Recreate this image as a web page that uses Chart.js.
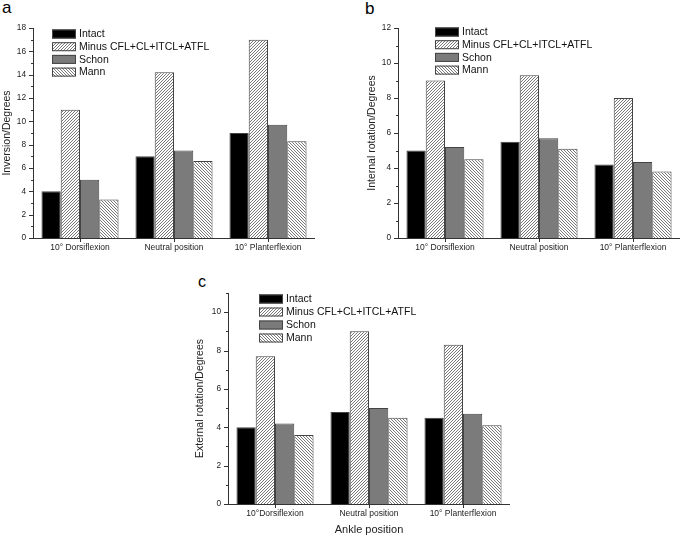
<!DOCTYPE html>
<html lang="en">
<head>
<meta charset="UTF-8">
<title>Ankle rotation and inversion</title>
<script src="https://cdn.jsdelivr.net/npm/chart.js"></script>
<style>
  body { margin: 0; background: #fff; font-family: "Liberation Sans", Arial, sans-serif; }
  #wrap { position: relative; width: 685px; height: 537px; overflow: hidden; }
  canvas { position: absolute; }
  .tag { position: absolute; line-height: 1; color: #000; }
</style>
</head>
<body>
<div id="wrap">
  <div class="tag" style="left:2px;top:-1px;font-size:17px">a</div>
  <div class="tag" style="left:365px;top:0px;font-size:17px">b</div>
  <div class="tag" style="left:198px;top:274px;font-size:16px">c</div>
  <canvas id="ca" width="340" height="260" style="left:0;top:0"></canvas>
  <canvas id="cb" width="343" height="260" style="left:342px;top:0"></canvas>
  <canvas id="cc" width="360" height="277" style="left:160px;top:260px"></canvas>
</div>

<script>
  // categories and series names
  const categories = ['10° Dorsiflexion', 'Neutral position', '10° Planterflexion'];
  const categoriesC = ['10°Dorsiflexion', 'Neutral position', '10° Planterflexion'];
  const seriesNames = ['Intact', 'Minus CFL+CL+ITCL+ATFL', 'Schon', 'Mann'];

  // (a) inversion, degrees
  const invIntact = [4.0, 7.0, 9.0];
  const invMinus = [11.0, 14.2, 17.0];
  const invSchon = [5.0, 7.5, 9.7];
  const invMann = [3.3, 6.6, 8.3];

  // (b) internal rotation, degrees
  const intIntact = [5.0, 5.5, 4.2];
  const intMinus = [9.0, 9.3, 8.0];
  const intSchon = [5.2, 5.7, 4.35];
  const intMann = [4.5, 5.1, 3.8];

  // (c) external rotation, degrees
  const extIntact = [4.0, 4.8, 4.5];
  const extMinus = [7.7, 9.0, 8.3];
  const extSchon = [4.2, 5.0, 4.7];
  const extMann = [3.6, 4.5, 4.1];

  Chart.defaults.font.family = '"Liberation Sans", Arial, sans-serif';
  Chart.defaults.color = '#222';

  // fine hatch fill, dir 1 = "////", -1 = "\\\\"
  function hatch(dir) {
    const n = 3;
    const c = document.createElement('canvas');
    c.width = n; c.height = n;
    const g = c.getContext('2d');
    const img = g.createImageData(n, n);
    for (let yy = 0; yy < n; yy++) {
      for (let xx = 0; xx < n; xx++) {
        const on = dir > 0 ? (xx + yy) % n === n - 1 : (xx - yy + n) % n === 0;
        const v = on ? 120 : 255;
        const p = (yy * n + xx) * 4;
        img.data[p] = img.data[p + 1] = img.data[p + 2] = v;
        img.data[p + 3] = 255;
      }
    }
    g.putImageData(img, 0, 0);
    return g.createPattern(c, 'repeat');
  }
  const fills = ['#000', hatch(1), '#7b7b7b', hatch(-1)];

  // axis lines, origin style ticks and the boxed legend
  const originAxes = {
    id: 'originAxes',
    afterDatasetsDraw(chart, args, opts) {
      const { ctx, chartArea: a, scales: { x, y } } = chart;
      ctx.save();
      ctx.strokeStyle = '#333';
      ctx.lineWidth = 1;
      ctx.beginPath();
      ctx.moveTo(a.left + 0.5, a.top);
      ctx.lineTo(a.left + 0.5, a.bottom + 1);
      ctx.moveTo(a.left, a.bottom + 0.5);
      ctx.lineTo(a.right, a.bottom + 0.5);
      for (let v = 0; v <= y.max; v++) {
        const py = Math.round(y.getPixelForValue(v)) + 0.5;
        const len = v % 2 === 0 ? 4 : 2;
        ctx.moveTo(a.left - len, py);
        ctx.lineTo(a.left, py);
      }
      x.ticks.forEach((t, i) => {
        const px = Math.round(x.getPixelForValue(i)) + 0.5;
        ctx.moveTo(px, a.bottom);
        ctx.lineTo(px, a.bottom + 4);
      });
      ctx.stroke();

      // legend
      ctx.font = '10.5px "Liberation Sans", Arial, sans-serif';
      ctx.textBaseline = 'middle';
      chart.data.datasets.forEach((ds, i) => {
        const lx = a.left + opts.lx;
        const cy = a.top + opts.ly + i * opts.step;
        ctx.fillStyle = ds.backgroundColor;
        ctx.fillRect(lx, cy - 4.5, 24, 9);
        ctx.strokeStyle = '#444';
        ctx.strokeRect(lx + 0.5, cy - 4, 23, 8);
        ctx.fillStyle = '#111';
        ctx.fillText(ds.label, lx + 27, cy + 0.5);
      });
      ctx.restore();
    }
  };

  function makeChart(id, labels, series, yMax, yTitle, xTitle, pad, yWidth, xHeight, legend) {
    return new Chart(document.getElementById(id), {
      type: 'bar',
      data: {
        labels: labels,
        datasets: series.map((vals, i) => ({
          label: seriesNames[i],
          data: vals,
          backgroundColor: fills[i],
          borderColor: '#444',
          borderWidth: 1,
          categoryPercentage: 0.82,
          barPercentage: 1.0
        }))
      },
      options: {
        responsive: false,
        animation: false,
        layout: { padding: pad },
        plugins: {
          legend: { display: false },
          tooltip: { enabled: false },
          originAxes: legend
        },
        scales: {
          x: {
            grid: { display: false, drawTicks: false },
            border: { display: false },
            ticks: { font: { size: 8.5 }, padding: 5, maxRotation: 0 },
            title: {
              display: !!xTitle, text: xTitle || '',
              font: { size: 11 }, padding: { top: 2, bottom: 0 }
            },
            afterFit: s => { s.height = xHeight; }
          },
          y: {
            min: 0,
            max: yMax,
            grid: { display: false, drawTicks: false },
            border: { display: false },
            ticks: {
              stepSize: 2,
              font: { size: 8.3 },
              padding: 7,
              callback: v => (v % 2 === 0 ? v : '')
            },
            title: {
              display: true, text: yTitle,
              font: { size: 10.5 }, padding: { top: 1, bottom: 0 }
            },
            afterFit: s => { s.width = yWidth; }
          }
        }
      },
      plugins: [originAxes]
    });
  }

  makeChart('ca', categories, [invIntact, invMinus, invSchon, invMann], 18,
    'Inversion/Degrees', null,
    { left: 0, top: 28, right: 25, bottom: 0 }, 33, 22,
    { lx: 19, ly: 6, step: 12.7 });

  makeChart('cb', categories, [intIntact, intMinus, intSchon, intMann], 12,
    'Internal rotation/Degrees', null,
    { left: 23, top: 28, right: 5, bottom: 0 }, 33, 22,
    { lx: 37, ly: 4, step: 12.7 });

  makeChart('cc', categoriesC, [extIntact, extMinus, extSchon, extMann], 11,
    'External rotation/Degrees', 'Ankle position',
    { left: 33, top: 33, right: 10, bottom: 0 }, 35, 33,
    { lx: 31, ly: 6, step: 13 });
</script>
</body>
</html>
